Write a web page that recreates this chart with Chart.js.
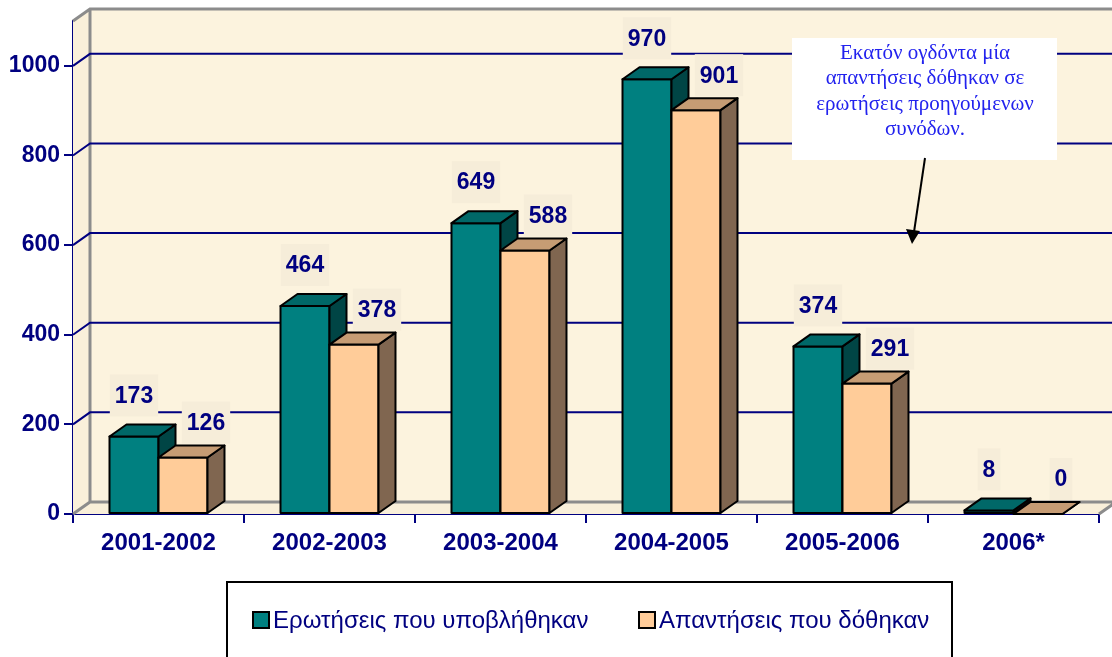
<!DOCTYPE html>
<html>
<head>
<meta charset="utf-8">
<script src="https://cdn.jsdelivr.net/npm/chart.js@4.4.1/dist/chart.umd.min.js"></script>
<style>
  html, body { margin: 0; padding: 0; background: #fff; }
  #wrap { width: 1112px; height: 657px; position: relative; overflow: hidden; }
</style>
</head>
<body>
<div id="wrap"><canvas id="chart" width="1112" height="657"></canvas></div>
<script>
// --- data ---
const categories = ['2001-2002', '2002-2003', '2003-2004', '2004-2005', '2005-2006', '2006*'];
const questionsAsked = [173, 464, 649, 970, 374, 8];
const answersGiven = [126, 378, 588, 901, 291, 0];
const yTickValues = [0, 200, 400, 600, 800, 1000];
const seriesNames = ['Ερωτήσεις που υποβλήθηκαν', 'Απαντήσεις που δόθηκαν'];
const noteLines = ['Εκατόν ογδόντα μία', 'απαντήσεις δόθηκαν σε', 'ερωτήσεις προηγούμενων', 'συνόδων.'];

const NAVY = '#000080';
const FONT = 'Arial, "Liberation Sans", sans-serif';
const DX = 17, DY = -12;   // 3D depth offset

// front / top / side colours per series
const faces = [
  { front: '#008080', top: '#006868', side: '#004545' },
  { front: '#ffcc99', top: '#c69c74', side: '#806650' }
];
const labelShift = [{ x: 0, y: -41 }, { x: 23, y: -35 }];

// back wall, side wall, floor and wall gridlines
const wallPlugin = {
  id: 'wall',
  beforeDatasetsDraw(chart) {
    const ctx = chart.ctx, a = chart.chartArea, ys = chart.scales.y;
    const L = a.left, T = a.top, B = a.bottom, R = a.right;
    ctx.save();
    ctx.fillStyle = '#fcf3de';
    ctx.fillRect(L + DX, T + DY, chart.width, B - T);
    ctx.fillStyle = '#faf0da';
    ctx.beginPath();
    ctx.moveTo(L, T); ctx.lineTo(L + DX, T + DY); ctx.lineTo(L + DX, B + DY); ctx.lineTo(L, B);
    ctx.closePath(); ctx.fill();
    ctx.fillStyle = '#f9efd9';
    ctx.beginPath();
    ctx.moveTo(L, B); ctx.lineTo(L + DX, B + DY); ctx.lineTo(R + DX, B + DY); ctx.lineTo(R, B);
    ctx.closePath(); ctx.fill();

    // grey frame
    ctx.strokeStyle = '#8c8c8c';
    ctx.lineWidth = 3;
    ctx.beginPath();
    ctx.moveTo(L, T); ctx.lineTo(L + DX, T + DY); ctx.lineTo(chart.width + 5, T + DY);
    ctx.moveTo(L + DX, T + DY); ctx.lineTo(L + DX, B + DY); ctx.lineTo(chart.width + 5, B + DY);
    ctx.moveTo(L, B); ctx.lineTo(L + DX, B + DY);
    ctx.moveTo(R, B); ctx.lineTo(R + DX, B + DY);
    ctx.stroke();

    // navy gridlines on the wall
    ctx.strokeStyle = NAVY;
    ctx.lineWidth = 2;
    yTickValues.forEach(v => {
      if (v === 0) return;
      const y = ys.getPixelForValue(v);
      ctx.beginPath();
      ctx.moveTo(L, y); ctx.lineTo(L + DX, y + DY); ctx.lineTo(chart.width + 5, y + DY);
      ctx.stroke();
    });
    ctx.restore();
  }
};

// front, top and side faces of each bar, series in index order so the second covers the first
const boxPlugin = {
  id: 'box3d',
  afterDatasetsDraw(chart) {
    const ctx = chart.ctx;
    ctx.save();
    ctx.strokeStyle = '#000';
    ctx.lineWidth = 2;
    ctx.lineJoin = 'round';
    chart.data.datasets.forEach((ds, di) => {
      const f = faces[di];
      chart.getDatasetMeta(di).data.forEach(bar => {
        const l = bar.x - bar.width / 2, r = bar.x + bar.width / 2, t = bar.y, b = bar.base;
        if (b - t > 1) {
          ctx.fillStyle = f.front;
          ctx.fillRect(l, t, r - l, b - t);
          ctx.strokeRect(l, t, r - l, b - t);
        }
        ctx.fillStyle = f.side;
        ctx.beginPath();
        ctx.moveTo(r, t); ctx.lineTo(r + DX, t + DY); ctx.lineTo(r + DX, b + DY); ctx.lineTo(r, b);
        ctx.closePath(); ctx.fill(); ctx.stroke();
        ctx.fillStyle = f.top;
        ctx.beginPath();
        ctx.moveTo(l, t); ctx.lineTo(l + DX, t + DY); ctx.lineTo(r + DX, t + DY); ctx.lineTo(r, t);
        ctx.closePath(); ctx.fill(); ctx.stroke();
      });
    });
    ctx.restore();
  }
};

// value labels, note box with arrow, legend box
const overlayPlugin = {
  id: 'overlay',
  afterDraw(chart) {
    const ctx = chart.ctx;
    ctx.save();
    ctx.font = 'bold 23px ' + FONT;
    ctx.textAlign = 'center';
    ctx.textBaseline = 'middle';
    chart.data.datasets.forEach((ds, di) => {
      chart.getDatasetMeta(di).data.forEach((bar, i) => {
        const txt = String(ds.data[i]);
        const x = bar.x + labelShift[di].x, y = bar.y + labelShift[di].y;
        const w = ctx.measureText(txt).width + 10;
        ctx.fillStyle = '#f6edd9';
        ctx.fillRect(x - w / 2, y - 21, w, 42);
        ctx.fillStyle = NAVY;
        ctx.fillText(txt, x, y + 1);
      });
    });

    // note
    ctx.fillStyle = '#fff';
    ctx.fillRect(792, 38, 265, 122);
    ctx.fillStyle = '#2222ee';
    ctx.font = '21px "Liberation Serif", "Times New Roman", serif';
    noteLines.forEach((s, i) => ctx.fillText(s, 925, 53 + i * 25.5));
    ctx.strokeStyle = '#000';
    ctx.lineWidth = 2;
    ctx.beginPath(); ctx.moveTo(925, 158); ctx.lineTo(914, 232); ctx.stroke();
    ctx.fillStyle = '#000';
    ctx.beginPath(); ctx.moveTo(912, 244); ctx.lineTo(906, 229); ctx.lineTo(920, 231); ctx.closePath(); ctx.fill();

    // legend
    ctx.strokeStyle = '#000';
    ctx.lineWidth = 2;
    ctx.fillStyle = '#fff';
    ctx.fillRect(227, 582, 725, 80);
    ctx.strokeRect(227, 582, 725, 80);
    ctx.font = '24px ' + FONT;
    ctx.textAlign = 'left';
    const pos = [253, 639];
    seriesNames.forEach((s, i) => {
      ctx.fillStyle = faces[i].front;
      ctx.fillRect(pos[i], 612, 16, 16);
      ctx.strokeRect(pos[i], 612, 16, 16);
      ctx.fillStyle = NAVY;
      ctx.fillText(s, pos[i] + 20, 621);
    });
    ctx.restore();
  }
};

new Chart(document.getElementById('chart'), {
  type: 'bar',
  data: {
    labels: categories,
    datasets: [
      { label: seriesNames[0], data: questionsAsked, backgroundColor: faces[0].front, borderWidth: 0 },
      { label: seriesNames[1], data: answersGiven, backgroundColor: faces[1].front, borderWidth: 0 }
    ]
  },
  options: {
    responsive: false,
    animation: false,
    devicePixelRatio: 1,
    categoryPercentage: 0.573,
    barPercentage: 1,
    layout: { padding: { top: 21, right: 13, left: 0, bottom: 0 } },
    plugins: { legend: { display: false }, tooltip: { enabled: false } },
    scales: {
      x: {
        grid: { drawOnChartArea: false, color: NAVY, lineWidth: 2, tickLength: 9, offset: true },
        border: { color: NAVY, width: 2 },
        ticks: { color: NAVY, font: { family: FONT, size: 24, weight: 'bold' }, padding: 6, maxRotation: 0, autoSkip: false },
        afterFit(s) { s.height = 143; }
      },
      y: {
        min: 0,
        max: 1100,
        afterBuildTicks(s) { s.ticks = yTickValues.map(v => ({ value: v })); },
        grid: { drawOnChartArea: false, color: NAVY, lineWidth: 2, tickLength: 9 },
        border: { color: NAVY, width: 2 },
        ticks: { color: NAVY, font: { family: FONT, size: 23, weight: 'bold' }, padding: 4, callback: v => String(v) },
        afterFit(s) { s.width = 73; }
      }
    }
  },
  plugins: [wallPlugin, boxPlugin, overlayPlugin]
});
</script>
</body>
</html>
